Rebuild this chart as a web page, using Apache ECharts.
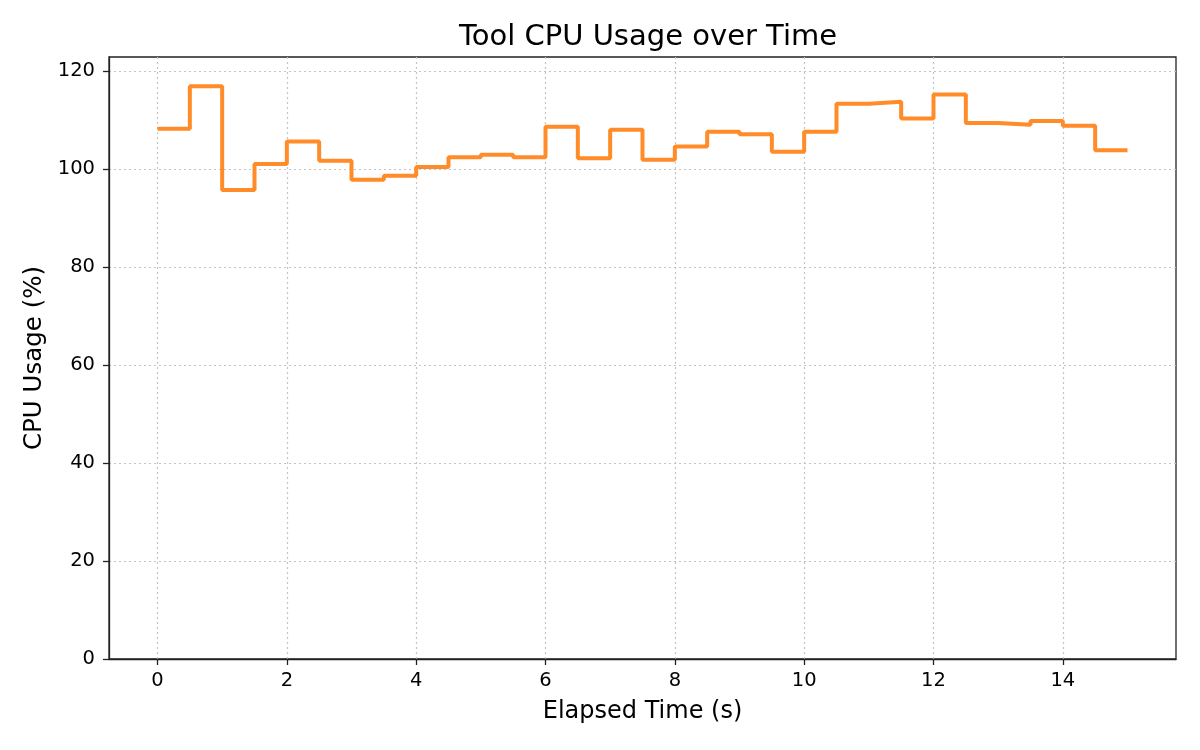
<!DOCTYPE html>
<html lang="en">
<head>
    <meta charset="UTF-8">
    <title>Tool CPU Usage over Time</title>
    <script src="https://cdn.jsdelivr.net/npm/echarts@6/dist/echarts.min.js"></script>
    <style>
        html, body { margin: 0; padding: 0; background: #fff; }
        #main { width: 1200px; height: 750px; }
    </style>
</head>
<body>
<div id="main"></div>
<script type="text/javascript">
    // elapsed time (s), sampled every 0.5 s
    var elapsed = [0, 0.5, 1, 1.5, 2, 2.5, 3, 3.5, 4, 4.5, 5, 5.5, 6, 6.5, 7, 7.5,
        8, 8.5, 9, 9.5, 10, 10.5, 11, 11.5, 12, 12.5, 13, 13.5, 14, 14.5, 15];
    // CPU usage (%)
    var cpuUsage = [108.2, 116.9, 95.7, 101.0, 105.6, 101.7, 97.8, 98.6, 100.4, 102.4,
        102.9, 102.4, 108.6, 102.2, 108.0, 101.9, 104.6, 107.6, 107.1, 103.5,
        107.6, 113.3, 113.7, 110.3, 115.2, 109.4, 109.0, 109.8, 108.8, 103.8, 103.8];
    var xTicks = [0, 2, 4, 6, 8, 10, 12, 14];
    var yTicks = [0, 20, 40, 60, 80, 100, 120];

    var myChart = echarts.init(document.getElementById('main'));
    var font = 'DejaVu Sans';
    var gridLine = {color: '#c4c4c4', type: [2, 3], width: 1.2};

    var points = elapsed.map(function (t, i) {
        return [t, cpuUsage[i]];
    });

    var option = {
        backgroundColor: '#fff',
        animation: false,
        title: {
            text: 'Tool CPU Usage over Time',
            left: 643,
            textAlign: 'center',
            top: 18,
            textStyle: {fontFamily: font, fontSize: 29, fontWeight: 'normal', color: '#000'}
        },
        grid: {
            left: 109,
            right: 24,
            top: 57,
            bottom: 91,
            show: true,
            borderColor: '#222',
            borderWidth: 1.3,
            containLabel: false
        },
        xAxis: {
            type: 'value',
            min: -0.75,
            max: 15.75,
            name: 'Elapsed Time (s)',
            nameLocation: 'middle',
            nameGap: 41,
            nameTextStyle: {fontFamily: font, fontSize: 24, color: '#000'},
            axisLine: {show: true, onZero: false, lineStyle: {color: '#222', width: 1.3}},
            axisTick: {show: true, inside: false, length: 6, customValues: xTicks, lineStyle: {color: '#222', width: 1.3}},
            axisLabel: {customValues: xTicks, fontFamily: font, fontSize: 19.5, color: '#000', margin: 12},
            splitLine: {show: true, customValues: xTicks, lineStyle: gridLine}
        },
        yAxis: {
            type: 'value',
            min: 0,
            max: 122.85,
            name: 'CPU Usage (%)',
            nameLocation: 'middle',
            nameGap: 62,
            nameTextStyle: {fontFamily: font, fontSize: 24.5, color: '#000'},
            axisLine: {show: true, onZero: false, lineStyle: {color: '#222', width: 1.3}},
            axisTick: {show: true, inside: false, length: 6, customValues: yTicks, lineStyle: {color: '#222', width: 1.3}},
            axisLabel: {customValues: yTicks, fontFamily: font, fontSize: 19.5, color: '#000', margin: 14},
            splitLine: {show: true, customValues: yTicks, lineStyle: gridLine}
        },
        series: [{
            type: 'line',
            step: 'end',
            data: points,
            showSymbol: false,
            lineStyle: {color: '#ff8c28', width: 4},
            itemStyle: {color: '#ff8c28'}
        }]
    };
    myChart.setOption(option);
</script>
</body>
</html>
